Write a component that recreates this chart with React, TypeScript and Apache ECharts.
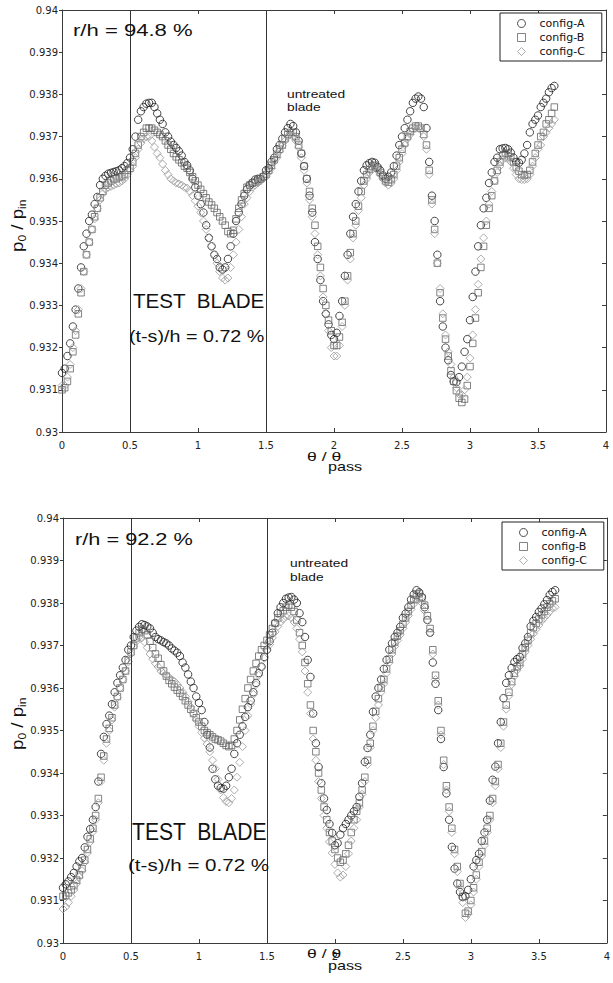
import React, { useEffect, useRef } from "react";
import * as echarts from "echarts";

// Circumferential traverse: samples every 0.02 of a blade passage
const THETA_STEP = 0.02;
const SAMPLE_COUNT = 182;
const THETA = Array.from({ length: SAMPLE_COUNT }, (_, i) => Math.round(i * THETA_STEP * 100) / 100);

const SERIES_NAMES = ["config-A", "config-B", "config-C"];

// r/h = 94.8 %  — total pressure ratio p0/pin
const TOP_A = [
  0.9314, 0.9315, 0.9318, 0.9321, 0.9325, 0.9329, 0.9334, 0.9339, 0.9344, 0.9347,
  0.9350, 0.93515, 0.9354, 0.93557, 0.93585, 0.9360, 0.93607, 0.93612, 0.93614, 0.93616,
  0.93618, 0.9362, 0.93625, 0.9363, 0.93637, 0.9365, 0.9367, 0.9370, 0.9374, 0.9376,
  0.9377, 0.93778, 0.9378, 0.9378, 0.9377, 0.93755, 0.9374, 0.9373, 0.9371, 0.9370,
  0.93688, 0.9368, 0.93673, 0.93665, 0.93655, 0.9364, 0.93632, 0.9362, 0.9360, 0.9358,
  0.9356, 0.9354, 0.9352, 0.9349, 0.9346, 0.9344, 0.9342, 0.9341, 0.9339, 0.93385,
  0.9339, 0.9341, 0.9344, 0.9347, 0.9350, 0.9352, 0.9354, 0.9356, 0.93575, 0.93585,
  0.9359, 0.93598, 0.936, 0.936, 0.93605, 0.9362, 0.93625, 0.9364, 0.9365, 0.9367,
  0.9368, 0.93695, 0.9371, 0.9372, 0.9373, 0.93725, 0.9371, 0.9369, 0.9366, 0.9363,
  0.9360, 0.9356, 0.9352, 0.9345, 0.9341, 0.9336, 0.9331, 0.9328, 0.93255, 0.9323,
  0.9322, 0.93235, 0.93275, 0.9331, 0.9337, 0.9342, 0.9347, 0.9351, 0.9354, 0.9357,
  0.93595, 0.9362, 0.93632, 0.93637, 0.9364, 0.93638, 0.93628, 0.9362, 0.93608, 0.936,
  0.93605, 0.93615, 0.9363, 0.93655, 0.9368, 0.9370, 0.9372, 0.9374, 0.9376, 0.9378,
  0.9379, 0.93795, 0.9379, 0.9377, 0.9372, 0.9364, 0.9356, 0.9350, 0.9342, 0.9331,
  0.9325, 0.9320, 0.9317, 0.93135, 0.9312, 0.93118, 0.9313, 0.93155, 0.9319, 0.9322,
  0.93265, 0.9332, 0.9338, 0.9344, 0.9349, 0.9353, 0.93555, 0.9359, 0.93615, 0.9364,
  0.9365, 0.9367, 0.93672, 0.93673, 0.9367, 0.93662, 0.9365, 0.9364, 0.93638, 0.93645,
  0.9366, 0.9368, 0.9371, 0.9373, 0.9374, 0.9375, 0.9377, 0.9378, 0.9379, 0.93805,
  0.93815, 0.9382,
];
const TOP_B = [
  0.9310, 0.93105, 0.9312, 0.9315, 0.9319, 0.9323, 0.9328, 0.9333, 0.9338, 0.9342,
  0.9345, 0.9348, 0.9351, 0.9353, 0.93555, 0.9357, 0.93585, 0.9359, 0.93595, 0.936,
  0.936, 0.93605, 0.93605, 0.9361, 0.9362, 0.93625, 0.9364, 0.9366, 0.9368, 0.9370,
  0.9371, 0.9372, 0.9372, 0.9372, 0.93715, 0.9371, 0.93705, 0.937, 0.9369, 0.9368,
  0.9367, 0.9366, 0.93652, 0.93645, 0.93638, 0.9363, 0.93625, 0.93615, 0.93605, 0.93595,
  0.93585, 0.93575, 0.93565, 0.93555, 0.93545, 0.93538, 0.9353, 0.9352, 0.9351, 0.935,
  0.9349, 0.93475, 0.9347, 0.93478, 0.93505, 0.9353, 0.9355, 0.93565, 0.9358, 0.93585,
  0.9359, 0.93592, 0.93595, 0.936, 0.93605, 0.9361, 0.9362, 0.93632, 0.93645, 0.93658,
  0.9367, 0.9368, 0.93695, 0.93705, 0.9371, 0.9371, 0.937, 0.9368, 0.9366, 0.9363,
  0.9360, 0.9357, 0.9353, 0.9349, 0.9344, 0.9339, 0.9334, 0.9330, 0.93265, 0.9324,
  0.93205, 0.93205, 0.93225, 0.9326, 0.9331, 0.9337, 0.93425, 0.9347, 0.9350, 0.93535,
  0.9357, 0.93595, 0.9361, 0.93622, 0.9363, 0.93632, 0.93625, 0.93615, 0.93605, 0.93595,
  0.93592, 0.93598, 0.9361, 0.9363, 0.9365, 0.9367, 0.93685, 0.937, 0.93712, 0.9372,
  0.93725, 0.93725, 0.9372, 0.93705, 0.9368, 0.9362, 0.9355, 0.9348, 0.9340, 0.9333,
  0.9327, 0.9322, 0.9318, 0.93145, 0.9312, 0.93098, 0.9308, 0.9307, 0.93078, 0.9311,
  0.93155, 0.9321, 0.9327, 0.9333, 0.9339, 0.9344, 0.9349, 0.9353, 0.9356, 0.93595,
  0.9362, 0.9364, 0.93655, 0.9366, 0.9366, 0.93652, 0.9364, 0.93628, 0.93618, 0.9361,
  0.93608, 0.9361, 0.9362, 0.9364, 0.9366, 0.9368, 0.9370, 0.9371, 0.9373, 0.9374,
  0.93755, 0.9377,
];
const TOP_C = [
  0.9311, 0.9311, 0.9313, 0.9316, 0.9320, 0.9324, 0.9329, 0.9334, 0.9338, 0.9342,
  0.9345, 0.9348, 0.93505, 0.9353, 0.9355, 0.93565, 0.93575, 0.9358, 0.93582, 0.93585,
  0.93588, 0.9359, 0.93595, 0.936, 0.9361, 0.9362, 0.9363, 0.9365, 0.9367, 0.93685,
  0.93695, 0.937, 0.937, 0.9369, 0.93675, 0.9366, 0.9365, 0.93635, 0.9362, 0.9361,
  0.936, 0.93595, 0.9359, 0.93588, 0.93585, 0.9358, 0.93578, 0.9357, 0.9356, 0.93548,
  0.93535, 0.9352, 0.935, 0.9348, 0.9346, 0.9344, 0.9342, 0.934, 0.9338, 0.93365,
  0.9336, 0.93365, 0.9339, 0.9342, 0.9345, 0.9348, 0.9351, 0.9354, 0.93555, 0.9357,
  0.9358, 0.93585, 0.9359, 0.93595, 0.936, 0.93605, 0.93615, 0.93625, 0.9364, 0.9365,
  0.93665, 0.93678, 0.9369, 0.937, 0.93705, 0.937, 0.9369, 0.93675, 0.9365, 0.9362,
  0.9359, 0.9355, 0.9351, 0.9347, 0.9342, 0.9337, 0.9332, 0.9328, 0.9324, 0.9320,
  0.9318, 0.9318, 0.93205, 0.9325, 0.9330, 0.9336, 0.9341, 0.9346, 0.9349, 0.93525,
  0.93555, 0.93585, 0.936, 0.93615, 0.93625, 0.93628, 0.9362, 0.9361, 0.936, 0.9359,
  0.93585, 0.9359, 0.936, 0.9362, 0.9364, 0.9366, 0.9368, 0.93695, 0.93705, 0.93715,
  0.9372, 0.9372, 0.93715, 0.937, 0.9367, 0.9361, 0.9354, 0.9347, 0.9340, 0.9334,
  0.9328, 0.9323, 0.9319, 0.9316, 0.9313, 0.93105, 0.9309, 0.93088, 0.931, 0.9313,
  0.93175, 0.9323, 0.9329, 0.9335, 0.9341, 0.9346, 0.935, 0.9354, 0.9357, 0.93595,
  0.93615, 0.9363, 0.93645, 0.9365, 0.93648, 0.9364, 0.93625, 0.9361, 0.936, 0.93598,
  0.93598, 0.936, 0.9361, 0.9363, 0.9365, 0.9367, 0.9368, 0.937, 0.9371, 0.9372,
  0.9373, 0.9374,
];

// r/h = 92.2 %
const BOT_A = [
  0.9313, 0.93138, 0.93145, 0.93155, 0.93165, 0.9318, 0.93192, 0.932, 0.93225, 0.9325,
  0.93268, 0.9329, 0.9332, 0.9338, 0.93445, 0.93485, 0.93515, 0.93535, 0.93562, 0.9359,
  0.93612, 0.9363, 0.93648, 0.93666, 0.9369, 0.937, 0.9372, 0.93735, 0.93744, 0.9375,
  0.93748, 0.93745, 0.9374, 0.9373, 0.9372, 0.93715, 0.93712, 0.93708, 0.93705, 0.937,
  0.93693, 0.93688, 0.93683, 0.93675, 0.9366, 0.93648, 0.93632, 0.93615, 0.936, 0.9358,
  0.93565, 0.93548, 0.9352, 0.9349, 0.9346, 0.9341, 0.93385, 0.9337, 0.93365, 0.93363,
  0.9337, 0.9339, 0.9341, 0.93445, 0.9347, 0.9349, 0.9351, 0.93532, 0.93555, 0.9357,
  0.9359, 0.93612, 0.93635, 0.9365, 0.93673, 0.9369, 0.9371, 0.9373, 0.93753, 0.93776,
  0.9379, 0.938, 0.9381, 0.93813, 0.93814, 0.93808, 0.938, 0.93776, 0.93755, 0.9372,
  0.93666, 0.93626, 0.9354, 0.9347, 0.93414, 0.93376, 0.9334, 0.93313, 0.9328, 0.93259,
  0.9323, 0.93235, 0.93255, 0.9327, 0.9328, 0.9329, 0.933, 0.9331, 0.9332, 0.93344,
  0.93376, 0.93426, 0.93459, 0.9349, 0.93544, 0.9358, 0.936, 0.9362, 0.93645, 0.93666,
  0.9369, 0.93705, 0.9372, 0.9373, 0.93744, 0.93765, 0.93775, 0.9379, 0.93808, 0.9382,
  0.9383, 0.93825, 0.93814, 0.9379, 0.9376, 0.9373, 0.9366, 0.9361, 0.93548, 0.9348,
  0.93414, 0.93352, 0.9329, 0.93226, 0.93175, 0.9314, 0.9312, 0.93108, 0.9311, 0.93125,
  0.9315, 0.9318, 0.93195, 0.9321, 0.9324, 0.9326, 0.9329, 0.93335, 0.93384, 0.93415,
  0.9347, 0.9352, 0.93576, 0.93612, 0.9363, 0.93647, 0.93661, 0.93668, 0.93673, 0.93694,
  0.93705, 0.9372, 0.93745, 0.93758, 0.93767, 0.93779, 0.93787, 0.93797, 0.93807, 0.93819,
  0.93826, 0.9383,
];
const BOT_B = [
  0.9311, 0.93112, 0.93118, 0.93125, 0.93135, 0.93148, 0.9316, 0.93175, 0.93195, 0.9322,
  0.93245, 0.9327, 0.933, 0.9334, 0.9339, 0.9344, 0.9348, 0.93505, 0.9353, 0.9356,
  0.9358, 0.936, 0.9362, 0.9364, 0.93665, 0.93685, 0.937, 0.93718, 0.9373, 0.93738,
  0.93735, 0.93725, 0.9371, 0.93695, 0.9368, 0.9367, 0.93655, 0.9364, 0.93628, 0.93618,
  0.9361, 0.93602, 0.93595, 0.93588, 0.9358, 0.9357, 0.9356, 0.9355, 0.9354, 0.9353,
  0.9352, 0.9351, 0.935, 0.93495, 0.9349, 0.93485, 0.9348, 0.93478, 0.93475, 0.9347,
  0.93465, 0.93462, 0.93465, 0.9348, 0.935, 0.93525, 0.9355, 0.93575, 0.936, 0.9362,
  0.9364, 0.93658, 0.93675, 0.9369, 0.937, 0.93712, 0.93725, 0.9374, 0.93752, 0.93765,
  0.93775, 0.93782, 0.9379, 0.93795, 0.9379, 0.9378, 0.9376, 0.9373, 0.937, 0.9366,
  0.9361, 0.9356, 0.935, 0.9345, 0.934, 0.9336, 0.9332, 0.9329, 0.9326, 0.9324,
  0.9322, 0.932, 0.9319, 0.93195, 0.9321, 0.9323, 0.9326, 0.9329, 0.9331, 0.9333,
  0.9336, 0.9339, 0.9343, 0.9347, 0.9351, 0.93545, 0.93575, 0.936, 0.9362, 0.93645,
  0.93668, 0.9369, 0.93708, 0.93722, 0.93735, 0.9375, 0.93765, 0.9378, 0.93795, 0.93808,
  0.93818, 0.93822, 0.93812, 0.93795, 0.9377, 0.9374, 0.9369, 0.9363, 0.9357, 0.935,
  0.9343, 0.9337, 0.9332, 0.9327, 0.9322, 0.9318, 0.9314, 0.9311, 0.9307, 0.93075,
  0.931, 0.9313, 0.9316, 0.9319, 0.93215, 0.9324, 0.9327, 0.933, 0.9334, 0.9338,
  0.9342, 0.9347, 0.9352, 0.9356, 0.9359, 0.93615, 0.93635, 0.9365, 0.9366, 0.9368,
  0.93695, 0.93712, 0.9373, 0.93742, 0.93752, 0.93762, 0.93772, 0.9378, 0.9379, 0.93798,
  0.93805, 0.9381,
];
const BOT_C = [
  0.9308, 0.93085, 0.93095, 0.9311, 0.93125, 0.9314, 0.93155, 0.9317, 0.9319, 0.93212,
  0.93238, 0.93262, 0.9329, 0.9333, 0.9338, 0.9343, 0.9347, 0.935, 0.93525, 0.93555,
  0.93578, 0.936, 0.9362, 0.9364, 0.93662, 0.9368, 0.93698, 0.9371, 0.9372, 0.93718,
  0.93708, 0.93695, 0.9368, 0.93668, 0.93658, 0.9365, 0.9364, 0.93635, 0.9363, 0.93625,
  0.9362, 0.93615, 0.93608, 0.936, 0.9359, 0.9358, 0.93568, 0.93555, 0.9354, 0.93525,
  0.9351, 0.93495, 0.93482, 0.93468, 0.9345, 0.9343, 0.9341, 0.93385, 0.9336, 0.93342,
  0.93333, 0.9333, 0.9334, 0.9336, 0.9339, 0.93425, 0.93462, 0.935, 0.93535, 0.93562,
  0.93585, 0.93608, 0.9363, 0.9365, 0.9367, 0.93688, 0.93702, 0.93718, 0.93732, 0.93745,
  0.93755, 0.93762, 0.93768, 0.9377, 0.93765, 0.93755, 0.9374, 0.93715, 0.93685, 0.9364,
  0.9359, 0.9354, 0.9348, 0.9343, 0.9338, 0.9334, 0.933, 0.9327, 0.93238, 0.93212,
  0.93185, 0.93165, 0.93155, 0.9316, 0.9318, 0.9321, 0.9324, 0.9327, 0.9329, 0.9332,
  0.9335, 0.9338, 0.9342, 0.9346, 0.935, 0.9353, 0.9356, 0.9359, 0.9361, 0.93635,
  0.9366, 0.9368, 0.93698, 0.93712, 0.93725, 0.9374, 0.93755, 0.9377, 0.93785, 0.93798,
  0.93808, 0.9381, 0.938, 0.93782, 0.9376, 0.9373, 0.9368, 0.9362, 0.9356, 0.9349,
  0.9342, 0.9336, 0.9331, 0.9326, 0.9321, 0.93168, 0.9313, 0.93095, 0.9306, 0.93068,
  0.9309, 0.9312, 0.9315, 0.9318, 0.93205, 0.9323, 0.9326, 0.9329, 0.9333, 0.9337,
  0.9341, 0.9346, 0.9351, 0.9355, 0.93582, 0.93608, 0.93628, 0.93642, 0.93652, 0.93668,
  0.93685, 0.937, 0.93715, 0.93728, 0.93738, 0.93748, 0.93758, 0.93765, 0.93772, 0.9378,
  0.93788, 0.9379,
];

// Test-blade passage boundaries
const BLADE_EDGES = [0.5, 1.5];

const X_MIN = 0, X_MAX = 4, X_STEP = 0.5;
const Y_MIN = 0.93, Y_MAX = 0.94, Y_STEP = 0.001;

const PLOTS = [
  { series: [TOP_A, TOP_B, TOP_C], title: "r/h = 94.8 %" },
  { series: [BOT_A, BOT_B, BOT_C], title: "r/h = 92.2 %" },
];

const MARKERS = [
  { symbol: "circle", size: 7.5, stroke: "#1a1a1a" },
  { symbol: "rect", size: 6.5, stroke: "#646464" },
  { symbol: "diamond", size: 8, stroke: "#989898" },
];

const GRIDS = [
  { left: 62, top: 10, width: 544, height: 422 },
  { left: 63, top: 518, width: 544, height: 425 },
];

const TICK_FONT = "DejaVu Sans";
const TEXT_FONT = "Liberation Sans";
const AXIS_COLOR = "#3a3a3a";

function buildOption() {
  const xAxis: any[] = [];
  const yAxis: any[] = [];
  const series: any[] = [];
  const graphic: any[] = [];

  GRIDS.forEach((_, g) => {
    const baseX = {
      type: "value",
      gridIndex: g,
      min: X_MIN,
      max: X_MAX,
      interval: X_STEP,
      splitLine: { show: false },
      axisLine: { show: true, onZero: false, lineStyle: { color: AXIS_COLOR, width: 1 } },
      axisTick: { show: true, inside: true, length: 4, lineStyle: { color: AXIS_COLOR } },
    };
    xAxis.push({
      ...baseX,
      position: "bottom",
      axisLabel: { show: true, margin: 8, fontFamily: TICK_FONT, fontSize: 10, color: "#222" },
    });
    xAxis.push({ ...baseX, position: "top", axisLabel: { show: false } });

    const baseY = {
      type: "value",
      gridIndex: g,
      min: Y_MIN,
      max: Y_MAX,
      interval: Y_STEP,
      splitLine: { show: false },
      axisLine: { show: true, onZero: false, lineStyle: { color: AXIS_COLOR, width: 1 } },
    };
    yAxis.push({
      ...baseY,
      position: "left",
      axisTick: { show: true, inside: false, length: 3, lineStyle: { color: AXIS_COLOR } },
      axisLabel: {
        show: true,
        margin: 4,
        fontFamily: TICK_FONT,
        fontSize: 10,
        color: "#222",
        formatter: (v: number) => String(+v.toFixed(3)),
      },
    });
    yAxis.push({
      ...baseY,
      position: "right",
      axisTick: { show: true, inside: true, length: 4, lineStyle: { color: AXIS_COLOR } },
      axisLabel: { show: false },
    });

    PLOTS[g].series.forEach((values, k) => {
      const m = MARKERS[k];
      const s: any = {
        type: "scatter",
        name: SERIES_NAMES[k],
        xAxisIndex: g * 2,
        yAxisIndex: g * 2,
        data: values.map((v, i) => [THETA[i], v]),
        symbol: m.symbol,
        symbolSize: m.size,
        itemStyle: { color: "rgba(0,0,0,0)", borderColor: m.stroke, borderWidth: 1 },
        emphasis: { disabled: true },
        silent: true,
      };
      if (k === 0) {
        s.markLine = {
          silent: true,
          symbol: "none",
          label: { show: false },
          lineStyle: { color: "#333", width: 1, type: "solid" },
          data: BLADE_EDGES.map((x) => ({ xAxis: x })),
        };
      }
      series.push(s);
    });
  });

  const text = (t: string, x: number, y: number, size: number, scaleX = 1) => ({
    type: "text",
    x,
    y,
    scaleX,
    silent: true,
    z: 10,
    style: {
      text: t,
      fontFamily: TEXT_FONT,
      fontSize: size,
      fill: "#111",
      textAlign: "left",
      textVerticalAlign: "middle",
      align: "left",
      verticalAlign: "middle",
    },
  });

  // y-axis title p0 / pin, read bottom-to-top
  const yTitle = (x: number, y: number) => ({
    type: "group",
    x,
    y,
    rotation: Math.PI / 2,
    scaleX: 1.1,
    silent: true,
    children: [
      text("p", 0, 0, 17),
      text("0", 9.5, 5, 11),
      text("/ p", 20.3, 0, 17),
      text("in", 39.2, 5, 11),
    ],
  });

  // Annotations, upper panel
  graphic.push(text(PLOTS[0].title, 73, 31, 16, 1.38));
  graphic.push(text("untreated", 287, 94, 11, 1.25));
  graphic.push(text("blade", 287, 107, 11, 1.25));
  graphic.push(text("TEST  BLADE", 133, 301, 20, 1.03));
  graphic.push(text("(t-s)/h = 0.72 %", 129, 336, 17, 1.16));
  graphic.push(text("θ / θ", 307, 456, 13, 1.35));
  graphic.push(text("pass", 328, 467, 12, 1.35));
  graphic.push(yTitle(17, 252));

  // Annotations, lower panel
  graphic.push(text(PLOTS[1].title, 75, 540, 16, 1.36));
  graphic.push(text("untreated", 290, 563, 11, 1.25));
  graphic.push(text("blade", 290, 577, 11, 1.25));
  graphic.push(text("TEST  BLADE", 132, 832, 24, 0.88));
  graphic.push(text("(t-s)/h = 0.72 %", 128, 865, 17, 1.21));
  graphic.push(text("θ / θ", 307, 953, 13, 1.35));
  graphic.push(text("pass", 328, 966, 12, 1.35));
  graphic.push(yTitle(17, 750));

  const legendData = SERIES_NAMES.map((name, k) => ({
    name,
    icon: MARKERS[k].symbol,
    itemStyle: { color: "rgba(0,0,0,0)", borderColor: MARKERS[k].stroke, borderWidth: 1 },
  }));
  const legendBase = {
    orient: "vertical",
    data: legendData,
    itemWidth: 8,
    itemHeight: 8,
    itemGap: 1,
    padding: [4, 17, 3, 17],
    borderColor: "#222",
    borderWidth: 1,
    backgroundColor: "#fff",
    selectedMode: false,
    textStyle: {
      fontFamily: TICK_FONT,
      fontSize: 11,
      color: "#111",
      lineHeight: 13,
      padding: [0, 0, 0, 9],
    },
  };

  return {
    animation: false,
    backgroundColor: "#fff",
    grid: GRIDS.map((g) => ({ ...g, containLabel: false })),
    xAxis,
    yAxis,
    legend: [
      { ...legendBase, left: 500, top: 13 },
      { ...legendBase, left: 502, top: 522 },
    ],
    series,
    graphic: { elements: graphic },
  };
}

export default function App() {
  const ref = useRef<HTMLDivElement>(null);
  useEffect(() => {
    if (!ref.current) return;
    const chart = echarts.init(ref.current, undefined, { renderer: "svg" });
    chart.setOption(buildOption() as any);
    return () => chart.dispose();
  }, []);
  return (
    <div
      ref={ref}
      style={{ position: "absolute", left: 0, top: 0, width: 613, height: 983, background: "#fff" }}
    />
  );
}
